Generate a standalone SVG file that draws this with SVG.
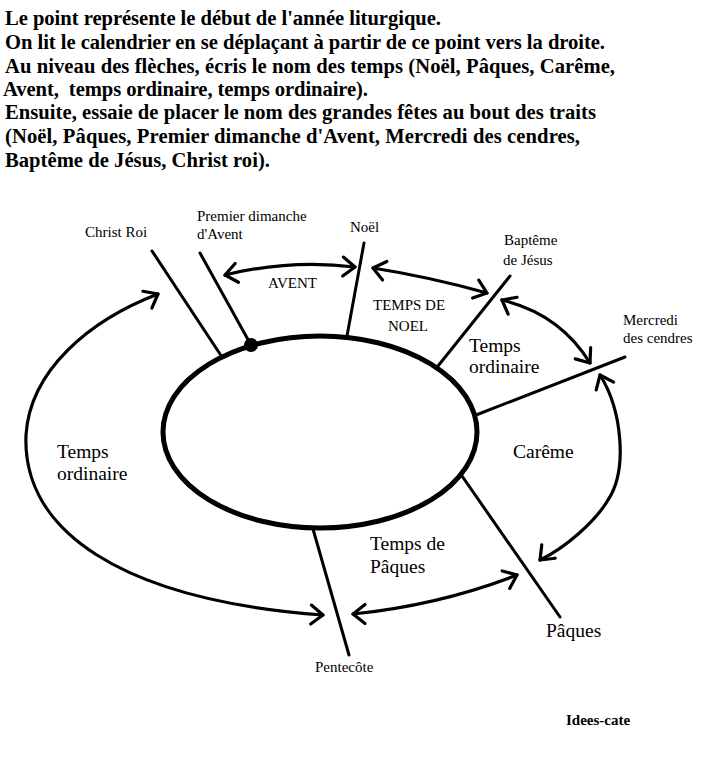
<svg xmlns="http://www.w3.org/2000/svg" width="708" height="776" viewBox="0 0 708 776">
<style>
text{font-family:"Liberation Serif","Times New Roman",serif;fill:#000}
.h{font-size:20.6px;font-weight:bold}
.s{font-size:15px}
.b{font-size:19.5px}
.ln{stroke:#000;stroke-width:3;fill:none;stroke-linecap:round}
.ar{stroke:#000;stroke-width:3.2;fill:none;stroke-linecap:round}
.hd{stroke:#000;stroke-width:3.2;fill:none;stroke-linecap:round;stroke-linejoin:round}
</style>
<defs>
<path id="v" class="hd" d="M-12,-9.5 L0,0 L-12,9.5"/>
</defs>
<rect width="708" height="776" fill="#fff"/>
<g id="header">
<text class="h" x="5" y="25" textLength="436">Le point représente le début de l'année liturgique.</text>
<text class="h" x="5" y="49" textLength="600">On lit le calendrier en se déplaçant à partir de ce point vers la droite.</text>
<text class="h" x="5" y="73" textLength="610">Au niveau des flèches, écris le nom des temps (Noël, Pâques, Carême,</text>
<text class="h" x="3" y="96" textLength="365" xml:space="preserve">Avent,  temps ordinaire, temps ordinaire).</text>
<text class="h" x="5" y="119" textLength="591">Ensuite, essaie de placer le nom des grandes fêtes au bout des traits</text>
<text class="h" x="5" y="143" textLength="575">(Noël, Pâques, Premier dimanche d'Avent, Mercredi des cendres,</text>
<text class="h" x="5" y="167" textLength="265">Baptême de Jésus, Christ roi).</text>
</g>
<g id="year">
<ellipse cx="320" cy="432" rx="157" ry="96" fill="none" stroke="#000" stroke-width="5"/>
<circle cx="251" cy="345" r="7" fill="#000"/>
</g>
<g id="connectors">
<line class="ln" x1="152" y1="251" x2="222" y2="357"/>
<line class="ln" x1="200" y1="253" x2="251" y2="345"/>
<line class="ln" x1="364" y1="243" x2="347" y2="336"/>
<line class="ln" x1="510" y1="276" x2="438" y2="366"/>
<line class="ln" x1="625" y1="357" x2="476" y2="415"/>
<line class="ln" x1="462" y1="476" x2="560" y2="617"/>
<line class="ln" x1="313" y1="529" x2="349" y2="655"/>
<path class="ar" d="M225,275 Q290,259 355,267"/>
<use href="#v" transform="translate(225,275) rotate(170)"/>
<use href="#v" transform="translate(355,267) rotate(2)"/>
<path class="ar" d="M373,268 Q430,277 487,293"/>
<use href="#v" transform="translate(373,268) rotate(193)"/>
<use href="#v" transform="translate(487,293) rotate(19)"/>
<path class="ar" d="M502,300 Q560,314 590,363"/>
<use href="#v" transform="translate(502,300) rotate(208)"/>
<use href="#v" transform="translate(590,363) rotate(54)"/>
<path class="ar" d="M600,375 C622,410 628,470 608,500 C595,522 565,548 540,560"/>
<use href="#v" transform="translate(600,375) rotate(246)"/>
<use href="#v" transform="translate(540,560) rotate(135)"/>
<path class="ar" d="M353,614 Q440,605 517,575"/>
<use href="#v" transform="translate(517,575) rotate(-23)"/>
<use href="#v" transform="translate(353,614) rotate(180)"/>
<path class="ar" d="M158,294 C90,320 30,370 26,435 C22,530 120,600 323,615"/>
<use href="#v" transform="translate(158,294) rotate(-28)"/>
<use href="#v" transform="translate(323,615) rotate(2)"/>
</g>
<g id="labels">
<text class="s" x="85" y="237">Christ Roi</text>
<text class="s" x="197" y="221">Premier dimanche</text>
<text class="s" x="197" y="239">d'Avent</text>
<text class="s" x="350" y="232">Noël</text>
<text class="s" x="268" y="288">AVENT</text>
<text class="s" x="504" y="245">Baptême</text>
<text class="s" x="503" y="265">de Jésus</text>
<text class="s" x="373" y="310">TEMPS DE</text>
<text class="s" x="388" y="331">NOEL</text>
<text class="b" x="469" y="352">Temps</text>
<text class="b" x="469" y="373">ordinaire</text>
<text class="s" x="623" y="325">Mercredi</text>
<text class="s" x="623" y="343">des cendres</text>
<text class="b" x="513" y="458">Carême</text>
<text class="b" x="57" y="458">Temps</text>
<text class="b" x="57" y="480">ordinaire</text>
<text class="b" x="370" y="550">Temps de</text>
<text class="b" x="370" y="573">Pâques</text>
<text class="b" x="546" y="637">Pâques</text>
<text class="s" x="315" y="672">Pentecôte</text>
<text x="566" y="725" style="font-size:15px;font-weight:bold">Idees-cate</text>
</g>
</svg>
